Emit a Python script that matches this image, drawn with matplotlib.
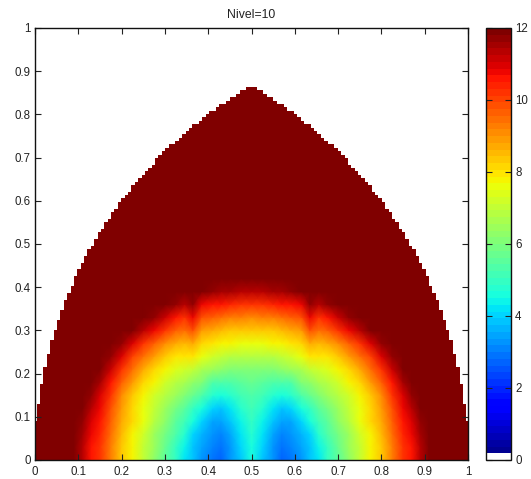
import numpy as np
import matplotlib
matplotlib.use("Agg")
import matplotlib.pyplot as plt
from matplotlib.colors import ListedColormap
from matplotlib.patches import Polygon

plt.rcParams["font.family"] = ["Liberation Sans", "DejaVu Sans"]

# columns of the left half, the right half is a mirror of it
x_half = [0, .05, .09, .11, .13, .15, .175, .2, .225, .25, .275, .3, .325, .345, .365, .385, .41, .43, .45, .475, .5]
y_rows = [0, .03, .06, .09, .12, .15, .18, .21, .24, .27, .30, .33, .36, .39, .42, .88]

values_half = [
    [12, 12, 12, 11.3, 10.5, 10.2, 9.2, 8.3, 7.7, 7.0, 6.3, 5.6, 4.9, 4.3, 3.8, 3.3, 2.9, 2.8, 3.2, 3.9, 4.5],
    [12, 12, 12, 11.3, 10.6, 10.3, 9.3, 8.3, 7.7, 7.0, 6.4, 5.7, 5.0, 4.4, 3.9, 3.4, 3.0, 2.9, 3.3, 4.0, 4.6],
    [12, 12, 12, 11.5, 10.7, 10.4, 9.5, 8.5, 7.8, 7.2, 6.5, 5.9, 5.3, 4.7, 4.1, 3.6, 3.2, 3.1, 3.5, 4.2, 4.75],
    [12, 12, 12, 11.7, 10.9, 10.6, 9.7, 8.7, 8.1, 7.5, 6.8, 6.2, 5.6, 5.1, 4.5, 4.0, 3.5, 3.4, 3.8, 4.4, 4.95],
    [12, 12, 12, 11.9, 11.3, 10.7, 9.9, 8.9, 8.2, 7.6, 7.0, 6.4, 5.9, 5.5, 5.0, 4.5, 4.0, 3.9, 4.2, 4.7, 5.15],
    [12, 12, 12, 12, 11.7, 11.0, 10.2, 9.1, 8.4, 7.8, 7.3, 6.8, 6.4, 6.1, 5.7, 5.3, 4.7, 4.6, 4.8, 5.1, 5.35],
    [12, 12, 12, 12, 12, 11.5, 10.6, 9.6, 8.9, 8.2, 7.7, 7.2, 6.8, 6.6, 6.2, 6.0, 5.4, 5.3, 5.4, 5.55, 5.7],
    [12, 12, 12, 12, 12, 11.9, 11.1, 10.2, 9.4, 8.8, 8.2, 7.7, 7.4, 7.2, 7.1, 6.7, 6.4, 6.2, 6.1, 6.0, 6.0],
    [12, 12, 12, 12, 12, 12, 11.8, 10.9, 10.1, 9.4, 8.9, 8.4, 8.0, 7.9, 7.9, 7.5, 7.2, 7.0, 6.9, 6.8, 6.75],
    [12, 12, 12, 12, 12, 12, 12, 11.8, 10.9, 10.2, 9.6, 9.1, 8.7, 8.5, 8.8, 8.2, 7.9, 7.8, 7.7, 7.6, 7.55],
    [12, 12, 12, 12, 12, 12, 12, 12, 11.9, 11.3, 10.7, 10.2, 9.7, 9.4, 9.9, 8.9, 8.7, 8.5, 8.4, 8.35, 8.3],
    [12, 12, 12, 12, 12, 12, 12, 12, 12, 12, 11.7, 11.1, 10.6, 10.3, 10.8, 9.8, 9.6, 9.4, 9.3, 9.2, 9.15],
    [12, 12, 12, 12, 12, 12, 12, 12, 12, 12, 12, 12, 11.7, 11.4, 11.7, 10.8, 10.6, 10.5, 10.4, 10.3, 10.2],
    [12, 12, 12, 12, 12, 12, 12, 12, 12, 12, 12, 12, 12, 12, 12, 11.9, 11.7, 11.6, 11.5, 11.4, 11.3],
    [12] * 21,
    [12] * 21,
]

# top of the filled area per grid column, in grid cells of 1/128
column_tops = [11, 16, 22, 27, 31, 35, 38, 41, 44, 47, 49, 51, 54, 56, 58, 60, 62, 63, 65, 67, 68, 70, 71, 73, 74, 76,
               77, 78, 79, 81, 82, 83, 84, 85, 86, 87, 89, 90, 91, 92, 93, 93, 94, 95, 96, 97, 98, 99, 99, 100, 101,
               102, 103, 103, 104, 105, 105, 106, 107, 107, 108, 109, 109, 110, 110]

x_half = np.array(x_half)
x = np.hstack([x_half, 1 - x_half[-2::-1]])
y = np.array(y_rows)
values_half = np.array(values_half)
values = np.hstack([values_half, values_half[:, -2::-1]])

tops = (np.array(column_tops + column_tops[-2::-1]) + 0.5) / 128
cells = len(tops)
edges = (np.arange(cells + 1) - 0.5) / 128
outline_x = np.r_[edges[0], np.repeat(edges, 2)[1:-1], edges[-1]]
outline_y = np.r_[0, np.repeat(tops, 2), 0]

colors = plt.get_cmap("jet", 64)(np.arange(64))
colors[0] = [1, 1, 1, 1]
cmap = ListedColormap(colors)

W, H = 531, 479
fig = plt.figure(figsize=(W / 100, H / 100), dpi=100, facecolor="white")
ax = fig.add_axes([35 / W, 1 - 460 / H, 433 / W, 432 / H])
cax = fig.add_axes([486 / W, 1 - 460 / H, 25 / W, 432 / H])

mesh = ax.pcolormesh(x, y, values, cmap=cmap, vmin=0, vmax=12, shading="gouraud")
clip = Polygon(np.c_[outline_x, outline_y], closed=True, transform=ax.transData, fc="none", ec="none")
ax.add_patch(clip)
mesh.set_clip_path(clip)

ax.set_xlim(0, 1)
ax.set_ylim(0, 1)
ticks = np.arange(0, 1.01, 0.1)
ax.set_xticks(ticks, ["0", "0.1", "0.2", "0.3", "0.4", "0.5", "0.6", "0.7", "0.8", "0.9", "1"])
ax.set_yticks(ticks, ["0", "0.1", "0.2", "0.3", "0.4", "0.5", "0.6", "0.7", "0.8", "0.9", "1"])
ax.tick_params(direction="in", top=True, right=True, length=4, width=0.8, labelsize=8.3, pad=3, colors="#222222")
ax.tick_params(axis="x", pad=4.5)
ax.set_title("Nivel=10", fontsize=8.8, pad=7, color="#222222")

cb = fig.colorbar(mesh, cax=cax)
cb.set_ticks(np.arange(0, 13, 2))
cax.tick_params(direction="in", left=True, right=True, length=4, width=0.8, labelsize=8.3, pad=3, colors="#222222")

for a in (ax, cax):
    for s in a.spines.values():
        s.set_linewidth(1.0)
        s.set_color("#111111")
cb.outline.set_linewidth(1.0)
cb.outline.set_edgecolor("#111111")

fig.savefig("out.png", dpi=100)
